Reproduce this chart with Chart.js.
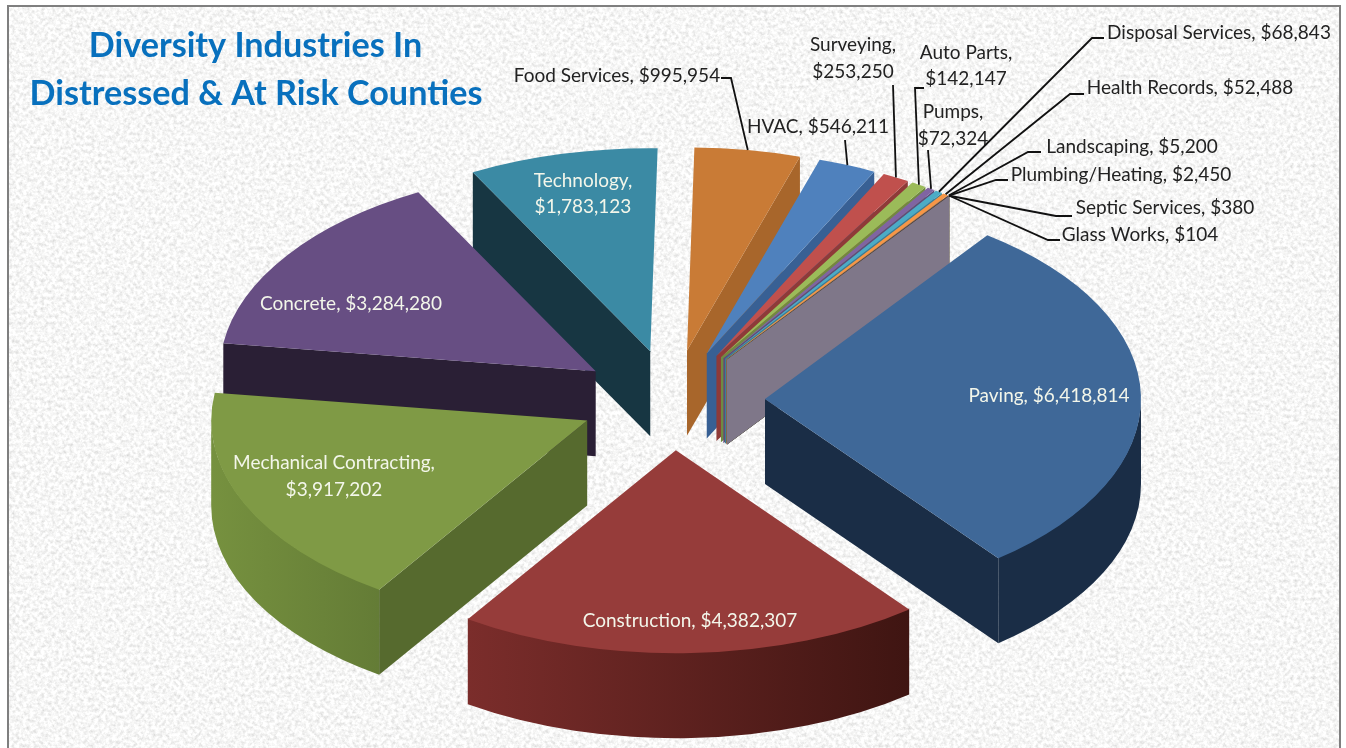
<!DOCTYPE html>
<html>
<head>
<meta charset="utf-8">
<style>
html,body{margin:0;padding:0;background:#fff;width:1346px;height:748px;overflow:hidden}
#frame{position:absolute;left:7px;top:5px;width:1330px;height:770px;border:2px solid #7f7f7f;
background-color:#ececea;
background-image:url("data:image/svg+xml,%3Csvg xmlns='http://www.w3.org/2000/svg' width='512' height='512'%3E%3Cfilter id='n' x='0' y='0' width='100%25' height='100%25'%3E%3CfeTurbulence type='fractalNoise' baseFrequency='.28' numOctaves='4' seed='7' stitchTiles='stitch'/%3E%3CfeColorMatrix values='.55 0 0 0 .65 .55 0 0 0 .65 .55 0 0 0 .645 0 0 0 0 1'/%3E%3C/filter%3E%3Crect width='512' height='512' filter='url(%23n)'/%3E%3C/svg%3E");}
canvas{position:absolute;left:0;top:0}
</style>
<script src="https://cdn.jsdelivr.net/npm/chart.js@4"></script>
</head>
<body>
<div id="frame"></div>
<canvas id="c" width="1346" height="748"></canvas>
<script>
const categories = ["Paving","Construction","Mechanical Contracting","Concrete","Technology","Food Services","HVAC","Surveying","Auto Parts","Pumps","Disposal Services","Health Records","Landscaping","Plumbing/Heating","Septic Services","Glass Works"];
const values = [6418814,4382307,3917202,3284280,1783123,995954,546211,253250,142147,72324,68843,52488,5200,2450,380,104];
const valueText = ["$6,418,814","$4,382,307","$3,917,202","$3,284,280","$1,783,123","$995,954","$546,211","$253,250","$142,147","$72,324","$68,843","$52,488","$5,200","$2,450","$380","$104"];
const topColors = ["#3f6898","#963c3a","#7f9a45","#674e83","#3b8aa4","#c97b36","#4f81bd","#c0504d","#9bbb59","#8064a2","#4bacc6","#f79646","#2c4d75","#772c2a","#5f7530","#4d3b62"];
const wallColors = ["#1a2d46","#3f1512","#566a2e","#2a1f35","#173642","#a8662b","#386094","#8f3a38","#718a40","#5f4a79","#378096","#b96f33","#21395a","#59201f","#475823","#7f7789"];
const outerLeft = ["#1a2d46","#7b2d2b","#76913f","#2a1f35","#173642","#a8662b","#386094","#8f3a38","#718a40","#5f4a79","#378096","#b96f33","#21395a","#59201f","#475823","#7f7789"];
const outerRight = ["#1a2d46","#3f1512","#647c36","#2a1f35","#173642","#a8662b","#386094","#8f3a38","#718a40","#5f4a79","#378096","#b96f33","#21395a","#59201f","#475823","#7f7789"];

const view = {rotation:36.25, radius:376, squash:0.54, explode:93, depth:85, centerY:400};
const drawOrder = [4,5,6,7,8,9,10,11,12,13,14,15,3,0,2,1];

// label placement: index, text lines, centre x, centre y of each line, colour, optional leader elbow
const INK = "#222222", LIGHT = "#f3f6ea";
const labelPlaces = [
 {i:0, two:false, x:1049, y:[396], c:LIGHT},
 {i:1, two:false, x:690, y:[621], c:LIGHT},
 {i:2, two:true,  x:334, y:[463,490], c:LIGHT},
 {i:3, two:false, x:351, y:[304], c:LIGHT},
 {i:4, two:true,  x:583, y:[181,207], c:LIGHT},
 {i:5, two:false, x:617, y:[76], c:INK, tail:[[721,78],[731,78]]},
 {i:6, two:false, x:818, y:[127], c:INK, tail:[[845,140]]},
 {i:7, two:true,  x:853, y:[45,72], c:INK, tail:[[893,85]]},
 {i:8, two:true,  x:966, y:[53,79], c:INK, tail:[[924,88],[915,88]]},
 {i:9, two:true,  x:953, y:[112,139], c:INK, tail:[[928,150]]},
 {i:10,two:false, x:1219, y:[33], c:INK, tail:[[1104,38],[1092,38]]},
 {i:11,two:false, x:1190, y:[88], c:INK, tail:[[1084,94],[1070,94]]},
 {i:12,two:false, x:1132, y:[147], c:INK, tail:[[1041,152],[1028,152]]},
 {i:13,two:false, x:1121, y:[175], c:INK, tail:[[1008,180],[996,180]]},
 {i:14,two:false, x:1165, y:[208], c:INK, tail:[[1072,216],[1056,216]]},
 {i:15,two:false, x:1140, y:[235], c:INK, tail:[[1060,240],[1048,240]]}
];
const titleLines = ["Diversity Industries In","Distressed & At Risk Counties"];

function geom(arc){
  const p = arc.getProps(['x','y','startAngle','endAngle','outerRadius'],true);
  const mid = (p.startAngle+p.endAngle)/2;
  const ax = p.x + view.explode*Math.cos(mid);
  const ay = view.centerY + view.explode*Math.sin(mid)*view.squash;
  return {p,mid,ax,ay,r:p.outerRadius};
}
const rimX = (g,a)=>g.ax+g.r*Math.cos(a);
const rimY = (g,a)=>g.ay+g.r*Math.sin(a)*view.squash;

function drawWalls(ctx,arcs){
  const D = view.depth;
  drawOrder.forEach(i=>{
    const g = geom(arcs[i]), a0=g.p.startAngle, a1=g.p.endAngle;
    const radial = a=>{
      ctx.beginPath();
      ctx.moveTo(g.ax,g.ay);
      ctx.lineTo(rimX(g,a),rimY(g,a));
      ctx.lineTo(rimX(g,a),rimY(g,a)+D);
      ctx.lineTo(g.ax,g.ay+D);
      ctx.closePath();
      ctx.fillStyle = wallColors[i];
      ctx.fill();
    };
    if(Math.cos(a0)<-0.05) radial(a0);
    if(Math.cos(a1)>0.05) radial(a1);
    const f0=Math.max(a0,0), f1=Math.min(a1,Math.PI);
    if(f1>f0){
      const gr = ctx.createLinearGradient(rimX(g,f1),0,rimX(g,f0),0);
      gr.addColorStop(0,outerLeft[i]);
      gr.addColorStop(1,outerRight[i]);
      ctx.beginPath();
      ctx.ellipse(g.ax,g.ay-1,g.r,g.r*view.squash,0,f0,f1,false);
      ctx.ellipse(g.ax,g.ay+D,g.r,g.r*view.squash,0,f1,f0,true);
      ctx.closePath();
      ctx.fillStyle = gr;
      ctx.fill();
    }
  });
}
function drawTops(ctx,arcs){
  arcs.forEach((arc,i)=>{
    const g = geom(arc);
    ctx.save();
    ctx.translate(g.ax,g.ay);
    ctx.scale(1,view.squash);
    ctx.translate(-g.p.x,-g.p.y);
    arc.draw(ctx);
    ctx.restore();
  });
}
function drawLabels(ctx,arcs){
  ctx.textAlign="center";
  ctx.textBaseline="middle";
  labelPlaces.forEach(l=>{
    const g = geom(arcs[l.i]);
    if(l.tail){
      ctx.beginPath();
      ctx.moveTo(l.tail[0][0],l.tail[0][1]);
      l.tail.slice(1).forEach(t=>ctx.lineTo(t[0],t[1]));
      ctx.lineTo(rimX(g,g.mid),rimY(g,g.mid));
      ctx.strokeStyle="#111";
      ctx.lineWidth=1.8;
      ctx.stroke();
    }
    const name=categories[l.i], val=valueText[l.i];
    const lines = l.two ? [name+",",val] : [name+", "+val];
    ctx.font='19px Lato, "Open Sans", sans-serif';
    ctx.fillStyle=l.c;
    lines.forEach((t,k)=>ctx.fillText(t,l.x,l.y[k]));
  });
  ctx.font='bold 34.2px Lato, "Open Sans", sans-serif';
  ctx.fillStyle="#0870bd";
  ctx.fillText(titleLines[0],255.5,46);
  ctx.fillText(titleLines[1],256,94);
}
const pie3d = {
  id:'pie3d',
  beforeDatasetsDraw(chart){
    const arcs = chart.getDatasetMeta(0).data;
    drawWalls(chart.ctx,arcs);
    drawTops(chart.ctx,arcs);
    return false;
  },
  afterDraw(chart){
    drawLabels(chart.ctx,chart.getDatasetMeta(0).data);
  }
};
new Chart(document.getElementById('c'),{
  type:'pie',
  data:{labels:categories,datasets:[{data:values,backgroundColor:topColors,borderWidth:0,hoverOffset:0,clip:false}]},
  options:{
    responsive:false,animation:false,devicePixelRatio:1,
    rotation:view.rotation,radius:view.radius,
    layout:{padding:{left:0,right:2,top:0,bottom:0}},
    events:[],
    plugins:{legend:{display:false},tooltip:{enabled:false},title:{display:false}}
  },
  plugins:[pie3d]
});
</script>
</body>
</html>
